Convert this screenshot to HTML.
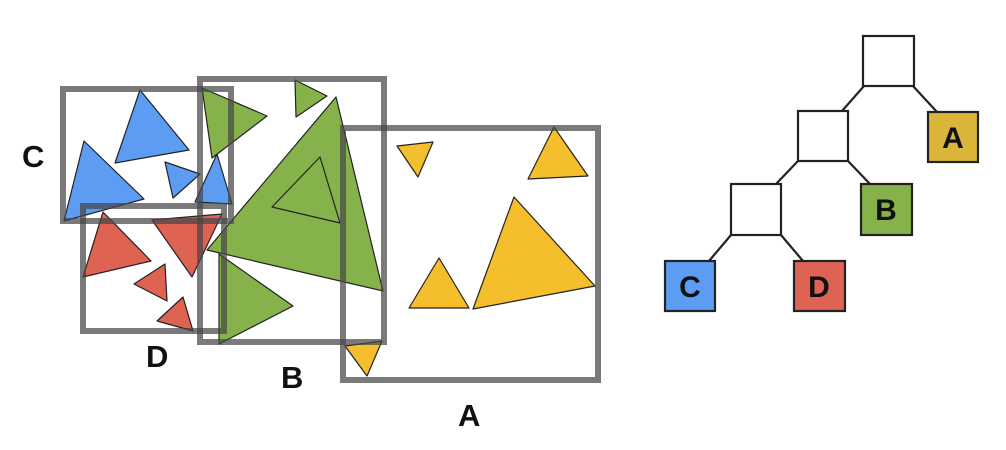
<!DOCTYPE html>
<html><head><style>html,body{margin:0;padding:0;background:#fff;width:1006px;height:450px;overflow:hidden}</style></head>
<body>
<svg width="1006" height="450" viewBox="0 0 1006 450" xmlns="http://www.w3.org/2000/svg" font-family="Liberation Sans, sans-serif" font-weight="bold">
<g stroke="#222" stroke-width="1.2" stroke-linejoin="round">
<g fill="#5c9cf2">
<polygon points="140,90 115,163 189,150"/>
<polygon points="84,141 64,221 144,199"/>
<polygon points="165,162 173,198 200,174"/>
<polygon points="217,154 195,202 232,204"/>
</g>
<g fill="#de6352">
<polygon points="103,212 83,277 151,261"/>
<polygon points="152,220 222,214 192,277"/>
<polygon points="165,264 134,284 167,301"/>
<polygon points="183,297 157,321 193,331"/>
</g>
<g fill="#85b24a">
<polygon points="202,88 267,116 212,158"/>
<polygon points="295,80 327,96 296,117"/>
<polygon points="336,97 207,250 383,291"/>
<polygon points="219,254 293,306 219,344"/>
</g>
<polygon points="320,157 272,207 340,223" fill="none"/>
<g fill="#f5be2c">
<polygon points="397,146 433,142 418,177"/>
<polygon points="554,127 528,179 588,176"/>
<polygon points="514,197 473,309 595,286"/>
<polygon points="439,258 409,308 469,308"/>
<polygon points="345,346 382,341 367,376"/>
</g>
</g>
<g fill="none" stroke="rgba(70,70,70,0.72)" stroke-width="6">
<rect x="63" y="89" width="168" height="132"/>
<rect x="83" y="206" width="141" height="125"/>
<rect x="200" y="79" width="184" height="263"/>
<rect x="343" y="128" width="255" height="252"/>
</g>
<g font-size="31" fill="#111">
<text x="22" y="167">C</text>
<text x="146" y="367">D</text>
<text x="281" y="388">B</text>
<text x="458" y="426">A</text>
</g>
<g stroke="#222" stroke-width="2.2">
<line x1="864" y1="86" x2="842" y2="111"/>
<line x1="913" y1="86" x2="937" y2="112"/>
<line x1="798" y1="161" x2="776" y2="184"/>
<line x1="848" y1="161" x2="870" y2="184"/>
<line x1="731" y1="235" x2="709" y2="261"/>
<line x1="781" y1="235" x2="803" y2="261"/>
</g>
<g stroke="#222" stroke-width="2.2">
<rect x="863" y="36" width="51" height="50" fill="#fff"/>
<rect x="798" y="111" width="50" height="50" fill="#fff"/>
<rect x="731" y="184" width="50" height="51" fill="#fff"/>
<rect x="928" y="112" width="50" height="50" fill="#d9b53a"/>
<rect x="861" y="184" width="51" height="51" fill="#86b24a"/>
<rect x="665" y="261" width="50" height="50" fill="#5c9cf2"/>
<rect x="794" y="261" width="51" height="50" fill="#de6352"/>
</g>
<g font-size="30" fill="#111" text-anchor="middle">
<text x="953" y="148">A</text>
<text x="886" y="220">B</text>
<text x="690" y="297">C</text>
<text x="819" y="297">D</text>
</g>
</svg>
</body></html>
